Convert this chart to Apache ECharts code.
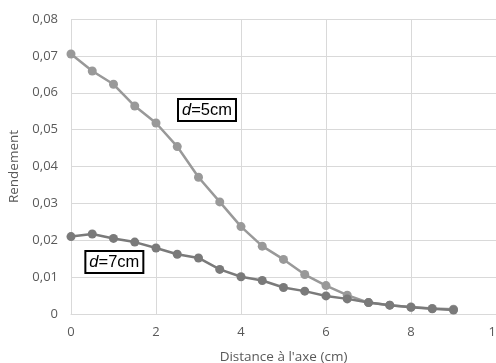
<!DOCTYPE html>
<html><head><meta charset="utf-8">
<script src="https://cdn.jsdelivr.net/npm/echarts@6/dist/echarts.min.js"></script>
<style>html,body{margin:0;padding:0;background:#fff}#c{width:496px;height:363px}</style>
</head><body><div id="c"></div>
<script>
var distances = [0,0.5,1,1.5,2,2.5,3,3.5,4,4.5,5,5.5,6,6.5,7,7.5,8,8.5,9];
var rendement5 = [0.0705,0.0659,0.0623,0.0564,0.0518,0.0454,0.0371,0.0304,0.0237,0.0184,0.0148,0.0107,0.0077,0.0051,0.0031,0.0024,0.0019,0.0015,0.0013];
var rendement7 = [0.0210,0.0217,0.0205,0.0195,0.0179,0.0162,0.0152,0.0121,0.0101,0.0091,0.0072,0.0062,0.0049,0.0041,0.0031,0.0024,0.0018,0.0014,0.0011];
var label5 = {name:'d=5cm', x:3.2, y:0.0553, d:'d', rest:'=5cm'};
var label7 = {name:'d=7cm', x:1.02, y:0.0141, d:'d', rest:'=7cm'};
var xTitle = "Distance à l'axe (cm)";
var yTitle = "Rendement";

function pairs(xs, ys){ return xs.map(function(x,i){return [x, ys[i]];}); }
function boxLabel(l){
  return {
    symbol:'rect', symbolSize:1, itemStyle:{color:'rgba(0,0,0,0)'},
    data:[{coord:[l.x,l.y], value:l.name}],
    label:{show:true, position:'inside',
      formatter:'{i|'+l.d+'}{n|'+l.rest+'}',
      backgroundColor:'#fff', borderColor:'#000', borderWidth:2, padding:[2,3,1,3],
      rich:{
        i:{fontFamily:'Liberation Sans', fontStyle:'italic', fontSize:16.5, color:'#000'},
        n:{fontFamily:'Liberation Sans', fontSize:16.5, color:'#000'}
      }}
  };
}
var chart = echarts.init(document.getElementById('c'));
chart.setOption({
  animation:false,
  backgroundColor:'#fff',
  grid:{left:71, right:0, top:19, bottom:49, containLabel:false, outerBoundsMode:'none'},
  xAxis:{type:'value', min:0, max:10, interval:2,
    name:xTitle, nameLocation:'middle', nameGap:36,
    nameTextStyle:{fontFamily:'Open Sans', fontSize:13.5, color:'#595959'},
    axisLine:{show:true, lineStyle:{color:'#d9d9d9', width:1}},
    axisTick:{show:false},
    axisLabel:{fontFamily:'Open Sans', fontSize:13, color:'#595959', margin:12},
    splitLine:{show:true, lineStyle:{color:'#d9d9d9', width:1}}
  },
  yAxis:{type:'value', min:0, max:0.08, interval:0.01,
    name:yTitle, nameLocation:'middle', nameGap:42,
    nameTextStyle:{fontFamily:'Open Sans', fontSize:13.5, color:'#595959'},
    axisLine:{show:false}, axisTick:{show:false},
    axisLabel:{fontFamily:'Open Sans', fontSize:13, color:'#595959', margin:13,
      formatter:function(v){ return v===0 ? '0' : v.toFixed(2).replace('.',','); }},
    splitLine:{show:true, lineStyle:{color:'#d9d9d9', width:1}}
  },
  series:[
    {type:'line', name:'d=5cm', data:pairs(distances, rendement5), symbol:'circle', symbolSize:9,
     lineStyle:{color:'#999999', width:2.5}, itemStyle:{color:'#999999'}, z:2,
     markPoint:boxLabel(label5)},
    {type:'line', name:'d=7cm', data:pairs(distances, rendement7), symbol:'circle', symbolSize:9,
     lineStyle:{color:'#7a7a7a', width:2.5}, itemStyle:{color:'#7a7a7a'}, z:3,
     markPoint:boxLabel(label7)}
  ]
});
</script></body></html>
